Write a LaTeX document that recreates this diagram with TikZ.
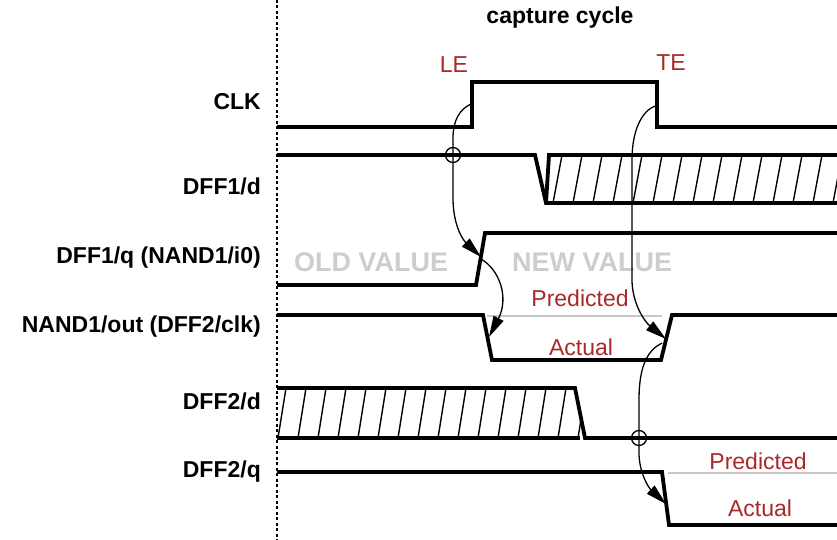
\documentclass[tikz,border=0pt]{standalone}
\usepackage{fontspec}
\setmainfont{Liberation Sans}
\usetikzlibrary{arrows.meta}
\definecolor{redtxt}{RGB}{170,40,40}
\definecolor{ghost}{RGB}{205,205,205}
\definecolor{predline}{RGB}{200,200,200}
\begin{document}
\begin{tikzpicture}[x=1pt,y=-1pt,
  sig/.style={line width=3.8pt,line join=miter,black},
  hatchln/.style={line width=1.4pt},
  arr/.style={line width=1.3pt,-{Triangle[length=21pt,width=11pt]}},
  lbl/.style={anchor=east,inner sep=0pt,font=\fontsize{23}{27}\selectfont\bfseries},
  redl/.style={inner sep=0pt,text=redtxt,font=\fontsize{23}{27}\selectfont},
  ghostl/.style={inner sep=0pt,text=ghost,font=\fontsize{27}{30}\selectfont\bfseries},
  pred/.style={line width=2pt,predline}]
\useasboundingbox (0,0) rectangle (837,540);

% vertical dashed marker
\draw[line width=1.6pt,dash pattern=on 3pt off 2.5pt] (277,0) -- (277,540);

% titles
\node[inner sep=0pt,font=\fontsize{23}{27}\selectfont\bfseries] (title) at (560,18) {capture cycle};
\node[redl] (le) at (454,65) {LE};
\node[redl] (te) at (671,63) {TE};

% row labels
\node[lbl] (lclk) at (261,102) {CLK};
\node[lbl] (ld1d) at (261,186) {DFF1/d};
\node[lbl] (ld1q) at (261,258) {DFF1/q (NAND1/i0)};
\node[lbl] (lnand) at (261,327) {NAND1/out (DFF2/clk)};
\node[lbl] (ld2d) at (261,401) {DFF2/d};
\node[lbl] (ld2q) at (261,472) {DFF2/q};

% ghost value texts
\node[ghostl] (old) at (371,262) {OLD VALUE};
\node[ghostl] (new) at (592,262) {NEW VALUE};

% predicted / actual labels
\node[redl] (p1) at (580,298) {Predicted};
\node[redl] (a1) at (581,347) {Actual};
\node[redl] (p2) at (758,461) {Predicted};
\node[redl] (a2) at (760,508) {Actual};

% predicted (gray) lines
\draw[pred] (487,316) -- (662,316);
\draw[pred] (668,473) -- (837,473);

% CLK
\draw[sig] (277,127) -- (472,127) -- (472,82) -- (657,82) -- (657,127) -- (837,127);

% DFF1/d
\begin{scope}
  \clip (548,155) -- (837,155) -- (837,203) -- (546,203) -- cycle;
  \foreach \x in {553,573,...,853} \draw[hatchln] (\x,203) -- (\x+9,155);
\end{scope}
\draw[sig] (277,155) -- (535,155) -- (546,203) -- (837,203);
\draw[sig] (546,203) -- (549,155) -- (837,155);

% DFF1/q
\draw[sig] (277,285) -- (476,285) -- (485,233) -- (837,233);

% NAND1/out
\draw[sig] (277,315) -- (483,315) -- (492,360) -- (661,360) -- (672,315) -- (837,315);

% DFF2/d
\begin{scope}
  \clip (277,388) -- (575,388) -- (585,438) -- (277,438) -- cycle;
  \foreach \x in {278,298,...,598} \draw[hatchln] (\x,438) -- (\x+8,388);
\end{scope}
\draw[sig] (277,388) -- (575,388) -- (585,438) -- (837,438);
\draw[sig] (277,438) -- (580,438);

% DFF2/q
\draw[sig] (277,472) -- (662,472) -- (669,525) -- (837,525);

% causality markers
\coordinate (leStart) at (471,104);
\coordinate (leTip) at (481,257);
\coordinate (qStart) at (481,259);
\coordinate (nTip) at (489,337);
\coordinate (teStart) at (655,106);
\coordinate (teTip) at (666,339);
\coordinate (nStart) at (662,343);
\coordinate (q2Tip) at (666,504);
\node[draw,circle,line width=1.3pt,minimum size=15pt,inner sep=0pt] (c1) at (453,155) {};
\node[draw,circle,line width=1.3pt,minimum size=15pt,inner sep=0pt] (c2) at (639,438) {};

\draw[arr] (leStart) .. controls (460,109) and (453,120) .. (453,138) -- (c1.center) -- (453,198) .. controls (453,222) and (461,238) .. (leTip);
\draw[arr] (qStart) .. controls (500,270) and (509,298) .. (nTip);
\draw[arr] (teStart) .. controls (642,111) and (632,130) .. (632,160) -- (632,282) .. controls (633,305) and (645,322) .. (teTip);
\draw[arr] (nStart) .. controls (648,350) and (639,365) .. (639,400) -- (c2.center) -- (639,455) .. controls (640,475) and (649,488) .. (q2Tip);
\end{tikzpicture}
\end{document}
